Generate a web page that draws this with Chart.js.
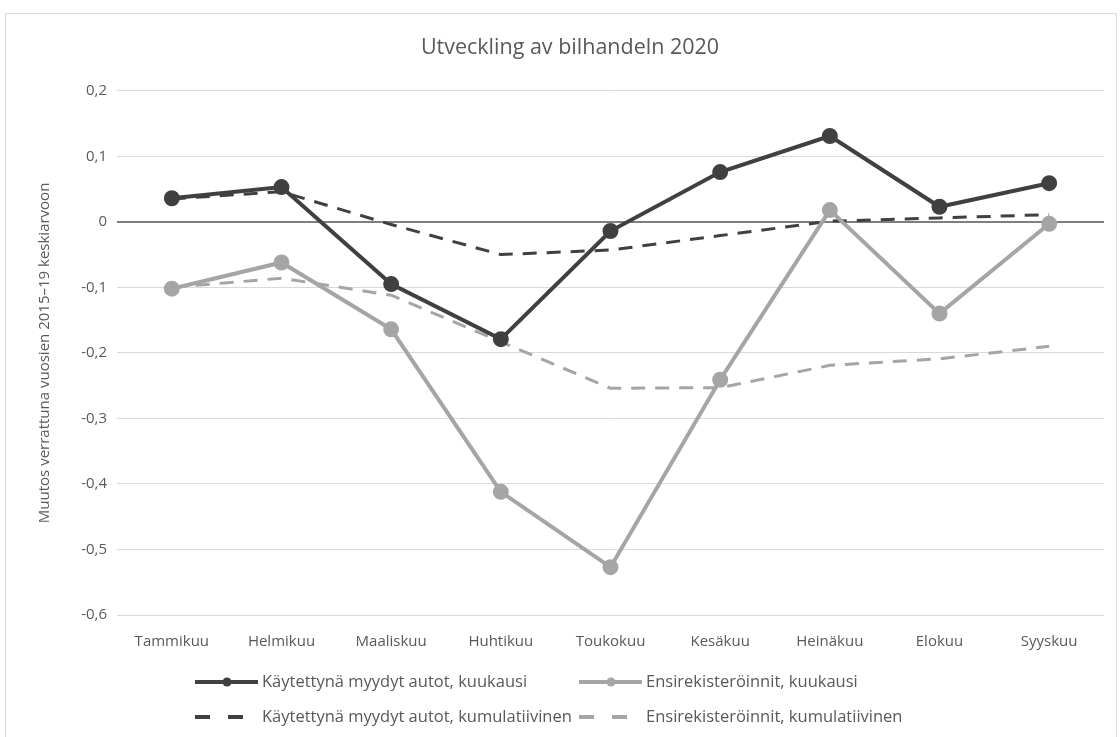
<!DOCTYPE html>
<html>
<head>
<meta charset="utf-8">
<script src="https://cdn.jsdelivr.net/npm/chart.js@4"></script>
<style>
  body { margin: 0; background: #fff; }
  #frame { position: absolute; left: 5px; top: 13px; width: 1110px; height: 730px;
           border: 1px solid #d9d9d9; border-bottom: none; }
  #wrap { position: absolute; left: 0; top: 0; width: 1110px; height: 724px; }
</style>
</head>
<body>
<div id="frame"><div id="wrap"><canvas id="myChart"></canvas></div></div>
<script>
// Months and series (change vs. 2015-19 average)
const months = ['Tammikuu', 'Helmikuu', 'Maaliskuu', 'Huhtikuu', 'Toukokuu', 'Kesäkuu', 'Heinäkuu', 'Elokuu', 'Syyskuu'];
const usedMonthly = [0.036, 0.053, -0.095, -0.179, -0.014, 0.076, 0.131, 0.023, 0.059];
const regMonthly = [-0.102, -0.062, -0.164, -0.412, -0.527, -0.241, 0.018, -0.140, -0.003];
const usedCumulative = [0.035, 0.046, -0.004, -0.050, -0.043, -0.021, 0.001, 0.006, 0.011];
const regCumulative = [-0.100, -0.086, -0.112, -0.183, -0.254, -0.253, -0.219, -0.209, -0.190];
const seriesLabels = [
    'Käytettynä myydyt autot, kuukausi',
    'Ensirekisteröinnit, kuukausi',
    'Käytettynä myydyt autot, kumulatiivinen',
    'Ensirekisteröinnit, kumulatiivinen'
];

const dark = '#404040';
const grey = '#a5a5a5';
const textColor = '#595959';
const fontFamily = '"Open Sans", sans-serif';

// Excel-style legend: two rows, two columns, drawn under the axis
const gridLegend = {
    id: 'gridLegend',
    afterDraw(chart) {
        const c = chart.ctx;
        const cols = [189, 573];
        const rows = [668, 703];
        c.save();
        c.font = '16.5px ' + fontFamily;
        c.textBaseline = 'middle';
        chart.data.datasets.forEach((ds, i) => {
            const x = cols[i % 2];
            const y = rows[Math.floor(i / 2)];
            c.strokeStyle = ds.borderColor;
            c.lineWidth = ds.borderDash ? 4 : ds.borderWidth;
            c.setLineDash(ds.borderDash ? [15, 18] : []);
            c.beginPath();
            c.moveTo(x, y);
            c.lineTo(x + 63, y);
            c.stroke();
            c.setLineDash([]);
            if (ds.pointRadius > 0) {
                c.fillStyle = ds.borderColor;
                c.beginPath();
                c.arc(x + 32, y, 4.5, 0, Math.PI * 2);
                c.fill();
            }
            c.fillStyle = textColor;
            c.fillText(ds.label, x + 67, y);
        });
        c.restore();
    }
};

const data = {
    labels: months,
    datasets: [{
        label: seriesLabels[0],
        data: usedMonthly,
        borderColor: dark,
        backgroundColor: dark,
        borderWidth: 4,
        pointRadius: 6,
        pointHoverRadius: 6
    }, {
        label: seriesLabels[1],
        data: regMonthly,
        borderColor: grey,
        backgroundColor: grey,
        borderWidth: 4,
        pointRadius: 6,
        pointHoverRadius: 6
    }, {
        label: seriesLabels[2],
        data: usedCumulative,
        borderColor: dark,
        backgroundColor: dark,
        borderWidth: 3,
        borderDash: [14, 10],
        pointRadius: 0
    }, {
        label: seriesLabels[3],
        data: regCumulative,
        borderColor: grey,
        backgroundColor: grey,
        borderWidth: 3,
        borderDash: [14, 10],
        pointRadius: 0
    }]
};

const config = {
    type: 'line',
    data: data,
    options: {
        responsive: true,
        maintainAspectRatio: false,
        animation: false,
        layout: { padding: { top: 0, left: 30, right: 12, bottom: 80 } },
        plugins: {
            legend: { display: false },
            tooltip: { enabled: false },
            title: {
                display: true,
                text: 'Utveckling av bilhandeln 2020',
                color: textColor,
                font: { family: fontFamily, size: 21.5, weight: 'normal' },
                padding: { top: 21, bottom: 30 }
            }
        },
        scales: {
            x: {
                offset: true,
                grid: { display: false },
                border: { display: false },
                ticks: { color: textColor, font: { family: fontFamily, size: 15 }, padding: 10, maxRotation: 0 },
                afterFit(scale) { scale.height = 43; }
            },
            y: {
                min: -0.6,
                max: 0.2,
                border: { display: false },
                grid: {
                    drawTicks: false,
                    color: ctx => Math.abs(ctx.tick.value) < 1e-9 ? '#7f7f7f' : '#d9d9d9',
                    lineWidth: ctx => Math.abs(ctx.tick.value) < 1e-9 ? 2 : 1
                },
                ticks: {
                    stepSize: 0.1,
                    color: textColor,
                    padding: 10,
                    font: { family: fontFamily, size: 15 },
                    callback: v => Math.abs(v) < 1e-9 ? '0' : v.toFixed(1).replace('.', ',')
                },
                title: {
                    display: true,
                    text: 'Muutos verrattuna vuosien 2015–19 keskiarvoon',
                    color: textColor,
                    font: { family: fontFamily, size: 15 },
                    padding: { top: 0, bottom: 0 }
                },
                afterFit(scale) { scale.width = 81; }
            }
        }
    },
    plugins: [gridLegend]
};

// Render the chart
const ctx = document.getElementById('myChart').getContext('2d');
const myChart = new Chart(ctx, config);
</script>
</body>
</html>
